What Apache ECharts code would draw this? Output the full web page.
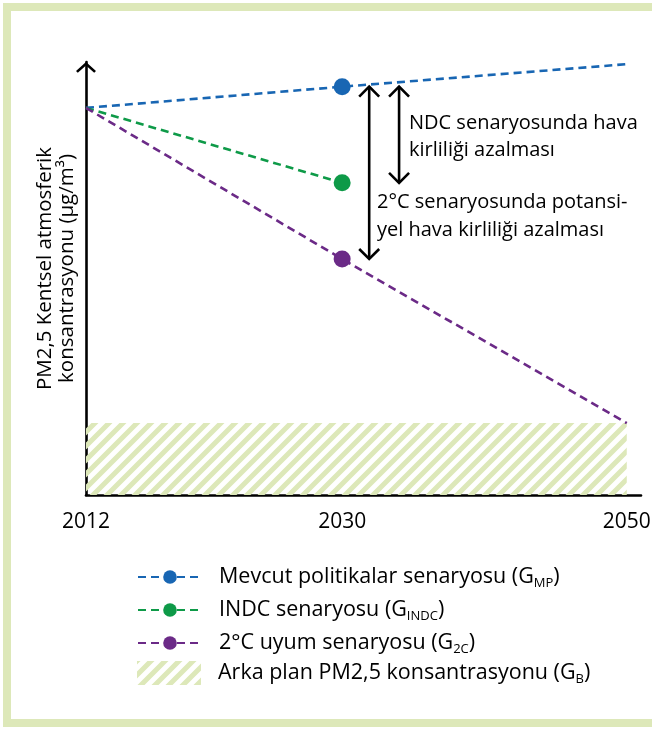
<!DOCTYPE html>
<html>
<head>
<meta charset="utf-8">
<script src="https://cdn.jsdelivr.net/npm/echarts@6/dist/echarts.min.js"></script>
<style>
  html, body { margin: 0; padding: 0; background: #fff; }
  #chart { width: 652px; height: 729px; }
</style>
</head>
<body>
<div id="chart"></div>
<script>
  // x positions (years)
  const years = [2012, 2030, 2050]
  const tickYears = [2012, 2030, 2050]

  // PM2,5 values (arbitrary units)
  const mpValues = [89.4, 94.3, 99.5]      // Mevcut politikalar
  const indcValues = [89.4, 72.1]          // INDC (2012, 2030)
  const c2Values = [89.4, 54.5, 16.6]      // 2°C uyum
  const bgYears = [2012, 2050]
  const bgValues = [16.6, 16.6]            // arka plan

  // reduction arrows: x (year)
  const arrowX = [2031.9, 2034]

  const seriesNames = ['Mevcut politikalar senaryosu', 'INDC senaryosu', '2°C uyum senaryosu', 'Arka plan PM2,5 konsantrasyonu']
  const subs = ['MP', 'INDC', '2C', 'B']

  const FONT = 'Open Sans'
  const colors = ['#1866b3', '#0e9a48', '#6b2a87']
  const hatchColor = '#dde8b9'

  // diagonal hatch pattern
  function makeHatch() {
    const p = 14
    const c = document.createElement('canvas')
    c.width = p; c.height = p
    const ctx = c.getContext('2d')
    ctx.strokeStyle = hatchColor
    ctx.lineWidth = 5
    ctx.beginPath()
    for (let k = 0; k <= 2; k++) {
      ctx.moveTo(-p, k * p + p)
      ctx.lineTo(k * p + p, -p)
    }
    ctx.stroke()
    return { image: c, repeat: 'repeat' }
  }
  const hatch = makeHatch()

  function lineData(values) {
    return values.map((v, i) => ({
      value: [years[i], v],
      symbol: years[i] === 2030 ? 'circle' : 'none'
    }))
  }

  function lineSeries(name, values, color) {
    return {
      name: name,
      type: 'line',
      data: lineData(values),
      symbol: 'none',
      symbolSize: 17,
      z: 3,
      lineStyle: { color: color, width: 2.6, type: [8, 5] },
      itemStyle: { color: color },
      emphasis: { disabled: true }
    }
  }

  const legendText = {
    fontSize: 21.5, lineHeight: 24, color: '#000', fontFamily: FONT, padding: [0, 0, 0, 12],
    rich: { s: { fontSize: 13, lineHeight: 13, padding: [12, 0, 0, 0], verticalAlign: 'top', fontFamily: FONT } }
  }
  const legendFormatter = name => name + ' (G{s|' + subs[seriesNames.indexOf(name)] + '})'

  const chart = echarts.init(document.getElementById('chart'), null, { renderer: 'canvas' })

  const option = {
    animation: false,
    textStyle: { fontFamily: FONT },
    grid: { left: 86, right: 11, top: 62, bottom: 234, outerBoundsMode: 'none' },
    xAxis: {
      type: 'value',
      min: 2012,
      max: 2051,
      axisLine: { show: true, lineStyle: { color: '#000', width: 2.6 } },
      axisTick: { show: false },
      splitLine: { show: false },
      axisLabel: {
        customValues: tickYears,
        formatter: v => String(v),
        margin: 17,
        fontSize: 21,
        color: '#000',
        fontFamily: FONT
      }
    },
    yAxis: {
      type: 'value',
      min: 0,
      max: 100,
      name: 'PM2,5 Kentsel atmosferik\nkonsantrasyonu (µg/m³)',
      nameLocation: 'middle',
      nameGap: 8,
      nameTextStyle: { fontSize: 20.5, lineHeight: 22, color: '#000', fontFamily: FONT, padding: [0, 0, 0, 20] },
      axisLine: {
        show: true,
        lineStyle: { color: '#000', width: 2.6 },
        symbol: ['none', 'path://M10,0 L20,9 L18.2,10.8 L10,3.4 L1.8,10.8 L0,9 Z'],
        symbolSize: [20, 10.8],
        symbolOffset: [0, -5.4]
      },
      axisTick: { show: false },
      axisLabel: { show: false },
      splitLine: { show: false }
    },
    legend: [
      {
        data: seriesNames.slice(0, 3),
        orient: 'vertical',
        left: 137,
        top: 565,
        padding: 0,
        itemWidth: 64,
        itemHeight: 17,
        itemGap: 8,
        selectedMode: false,
        formatter: legendFormatter,
        textStyle: legendText
      },
      {
        data: [{ name: seriesNames[3], icon: 'rect', itemStyle: { color: hatch } }],
        orient: 'vertical',
        left: 137,
        top: 661,
        padding: 0,
        itemWidth: 64,
        itemHeight: 24,
        selectedMode: false,
        formatter: legendFormatter,
        textStyle: legendText
      }
    ],
    graphic: [
      // light green frame: left, top, bottom (open on the right)
      { type: 'rect', silent: true, z: -1, shape: { x: 3, y: 3, width: 8, height: 724 }, style: { fill: hatchColor } },
      { type: 'rect', silent: true, z: -1, shape: { x: 3, y: 3, width: 649, height: 8 }, style: { fill: hatchColor } },
      { type: 'rect', silent: true, z: -1, shape: { x: 3, y: 719, width: 649, height: 8 }, style: { fill: hatchColor } },
      {
        type: 'text',
        left: 409,
        top: 110,
        style: { text: 'NDC senaryosunda hava\nkirliliği azalması', font: '20px "Open Sans"', lineHeight: 27, fill: '#000' }
      },
      {
        type: 'text',
        left: 377,
        top: 188,
        style: { text: '2°C senaryosunda potansi-\nyel hava kirliliği azalması', font: '20px "Open Sans"', lineHeight: 28, fill: '#000' }
      }
    ],
    series: [
      {
        name: seriesNames[3],
        type: 'line',
        data: bgYears.map((y, i) => [y, bgValues[i]]),
        symbol: 'none',
        z: 1,
        lineStyle: { width: 0 },
        itemStyle: { color: hatch },
        areaStyle: { color: hatch, opacity: 1 },
        emphasis: { disabled: true }
      },
      lineSeries(seriesNames[0], mpValues, colors[0]),
      lineSeries(seriesNames[1], indcValues, colors[1]),
      lineSeries(seriesNames[2], c2Values, colors[2]),
      {
        type: 'custom',
        z: 4,
        silent: true,
        encode: { x: 0, y: [1, 2] },
        data: [
          [arrowX[0], mpValues[1], c2Values[1]],
          [arrowX[1], mpValues[1], indcValues[1]]
        ],
        renderItem: function (params, api) {
          const x = api.value(0)
          const p1 = api.coord([x, api.value(1)])
          const p2 = api.coord([x, api.value(2)])
          const hw = 10, hh = 10
          const style = { stroke: '#000', lineWidth: 2.6, fill: null }
          return {
            type: 'group',
            children: [
              { type: 'line', shape: { x1: p1[0], y1: p1[1], x2: p2[0], y2: p2[1] }, style: style },
              { type: 'polyline', shape: { points: [[p1[0] - hw, p1[1] + hh], p1, [p1[0] + hw, p1[1] + hh]] }, style: style },
              { type: 'polyline', shape: { points: [[p2[0] - hw, p2[1] - hh], p2, [p2[0] + hw, p2[1] - hh]] }, style: style }
            ]
          }
        }
      }
    ]
  }

  chart.setOption(option)
</script>
</body>
</html>
